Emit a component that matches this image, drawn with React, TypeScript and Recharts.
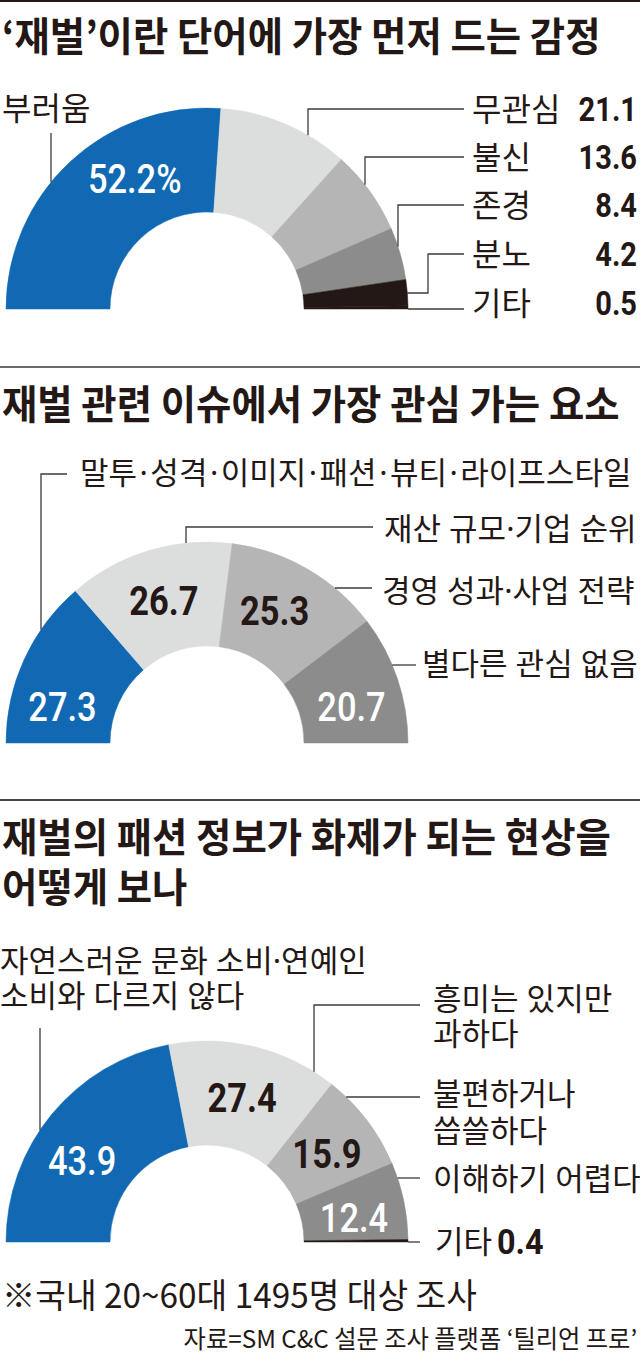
import React from "react";
import { PieChart, Pie, Cell } from "recharts";

const INK = "#231815";
const BLUE = "#1169b4";
const LIGHT = "#dcdddd";
const MID = "#b5b5b6";
const DARK = "#8c8c8c";
const LEAD = "#3e3a39";

const KR = "'Noto Sans CJK KR', 'Noto Sans', sans-serif";
const KR_LABEL = "'Noto Sans', 'Noto Sans CJK KR', sans-serif";
const NUM = "Roboto, 'Liberation Sans', sans-serif";

// '재벌'이란 단어에 가장 먼저 드는 감정
const emotionNames = ["부러움", "무관심", "불신", "존경", "분노", "기타"];
const emotionValues = [52.2, 21.1, 13.6, 8.4, 4.2, 0.5];

// 재벌 관련 이슈에서 가장 관심 가는 요소
const interestNames = [
  "말투·성격·이미지·패션·뷰티·라이프스타일",
  "재산 규모·기업 순위",
  "경영 성과·사업 전략",
  "별다른 관심 없음",
];
const interestValues = [27.3, 26.7, 25.3, 20.7];

// 재벌의 패션 정보가 화제가 되는 현상을 어떻게 보나
const viewNames = [
  "자연스러운 문화 소비·연예인\n소비와 다르지 않다",
  "흥미는 있지만\n과하다",
  "불편하거나\n씁쓸하다",
  "이해하기 어렵다",
  "기타",
];
const viewValues = [43.9, 27.4, 15.9, 12.4, 0.4];

const titles = [
  "‘재벌’이란 단어에 가장 먼저 드는 감정",
  "재벌 관련 이슈에서 가장 관심 가는 요소",
  "재벌의 패션 정보가 화제가 되는 현상을",
  "어떻게 보나",
];
const footnote = "※국내 20~60대 1495명 대상 조사";
const source = "자료=SM C&C 설문 조사 플랫폼 ‘틸리언 프로’";

// layout
const CX = 207;
const R_IN = 97;
const R_OUT = 201;
const IN_F = 41;

type Inside = { shift: number; color: string; weight: number; suffix?: string } | null;
type Leader = {
  tx: number;
  ty: number;
  gap?: number;
  dot?: number;
  x0: number;
  y: number;
  ex?: number;
  ey?: number;
  value?: "right" | "after";
};
type ChartCfg = {
  cy: number;
  labelF: number;
  names: string[];
  values: number[];
  fills: string[];
  inside: Inside[];
  leaders: Leader[];
};

const W = "#fff";

const charts: ChartCfg[] = [
  {
    cy: 309,
    labelF: 32,
    names: emotionNames,
    values: emotionValues,
    fills: [BLUE, LIGHT, MID, DARK, INK, INK],
    inside: [{ shift: -14, color: W, weight: 500, suffix: "%" }, null, null, null, null, null],
    leaders: [
      { tx: 2, ty: 108, x0: 51, y: 133, ex: 51 },
      { tx: 472, ty: 109, x0: 464, y: 109, ex: 308, value: "right" },
      { tx: 472, ty: 157, x0: 464, y: 157, ex: 365, value: "right" },
      { tx: 472, ty: 205, x0: 464, y: 205, ex: 398, value: "right" },
      { tx: 472, ty: 254, x0: 464, y: 254, ex: 428, ey: 293, value: "right" },
      { tx: 472, ty: 303, x0: 464, y: 309, value: "right" },
    ],
  },
  {
    cy: 743,
    labelF: 31,
    names: interestNames,
    values: interestValues,
    fills: [BLUE, LIGHT, MID, DARK],
    inside: [
      { shift: 10.5, color: W, weight: 500 },
      { shift: 0, color: INK, weight: 700 },
      { shift: 3, color: INK, weight: 700 },
      { shift: -4.5, color: W, weight: 500 },
    ],
    leaders: [
      { tx: 80, ty: 472, dot: 2.5, x0: 67, y: 474, ex: 41 },
      { tx: 384, ty: 528, x0: 373, y: 527, ex: 186 },
      { tx: 382, ty: 590, x0: 372, y: 588 },
      { tx: 422, ty: 663, x0: 416, y: 665 },
    ],
  },
  {
    cy: 1242,
    labelF: 31,
    names: viewNames,
    values: viewValues,
    fills: [BLUE, LIGHT, MID, DARK, INK],
    inside: [
      { shift: 6.5, color: W, weight: 500 },
      { shift: 0, color: INK, weight: 700 },
      { shift: -1, color: INK, weight: 700 },
      { shift: -2.4, color: W, weight: 500 },
      null,
    ],
    leaders: [
      { tx: 0, ty: 960, gap: 35, x0: 40, y: 1028, ex: 40 },
      { tx: 433, ty: 998, gap: 35, x0: 420, y: 1005, ex: 314 },
      { tx: 433, ty: 1093, gap: 37, x0: 420, y: 1097 },
      { tx: 433, ty: 1178, x0: 420, y: 1178 },
      { tx: 435, ty: 1241, x0: 420, y: 1242, value: "after" },
    ],
  },
];

const RAD = Math.PI / 180;

// middle dots get a little air on both sides, like the print version
function dotted(t: string, gap?: number) {
  if (!gap || t.indexOf("·") < 0) return t;
  const out: React.ReactNode[] = [];
  t.split("·").forEach((b, i) => {
    if (i > 0) {
      out.push(
        <tspan key={"d" + i} dx={gap}>
          ·
        </tspan>
      );
      out.push(
        <tspan key={"b" + i} dx={gap}>
          {b}
        </tspan>
      );
    } else out.push(<tspan key="b0">{b}</tspan>);
  });
  return out;
}

function renderLabel(chart: ChartCfg) {
  return (p: any) => {
    const { cx, cy, midAngle, innerRadius, outerRadius, index } = p;
    const value = chart.values[index];
    const inside = chart.inside[index];
    const L = chart.leaders[index];
    const F = chart.labelF;
    const parts: React.ReactNode[] = [];

    if (inside) {
      const a = (midAngle + inside.shift) * RAD;
      const r = (innerRadius + outerRadius) / 2;
      const x = cx + r * Math.cos(a);
      const y = cy - r * Math.sin(a) + IN_F * 0.355;
      parts.push(
        <text
          key="in"
          transform={`translate(${x} ${y}) scale(0.84 1)`}
          textAnchor="middle"
          fontFamily={NUM}
          fontSize={IN_F}
          fontWeight={inside.weight}
          fill={inside.color}
        >
          {value.toFixed(1)}
          {inside.suffix || ""}
        </text>
      );
    }

    if (L) {
      const R = outerRadius;
      const pts: number[][] = [[L.x0, L.y]];
      if (L.ex === undefined) {
        pts.push([cx + Math.sqrt(R * R - (L.y - cy) ** 2), L.y]);
      } else if (L.ey === undefined) {
        pts.push([L.ex, L.y], [L.ex, cy - Math.sqrt(R * R - (L.ex - cx) ** 2)]);
      } else {
        pts.push([L.ex, L.y], [L.ex, L.ey], [cx + Math.sqrt(R * R - (L.ey - cy) ** 2), L.ey]);
      }
      parts.push(
        <polyline
          key="lead"
          points={pts.map((q) => q.join(",")).join(" ")}
          fill="none"
          stroke={LEAD}
          strokeWidth={1.3}
        />
      );
      chart.names[index].split("\n").forEach((t, i) => {
        parts.push(
          <text
            key={"t" + i}
            x={L.tx}
            y={L.ty + i * (L.gap || 0) + F * 0.38}
            fontFamily={KR_LABEL}
            fontSize={F}
            fill={INK}
          >
            {dotted(t, L.dot)}
          </text>
        );
      });
      if (L.value === "right") {
        parts.push(
          <text
            key="v"
            transform={`translate(637 ${L.ty + 33 * 0.355}) scale(0.88 1)`}
            textAnchor="end"
            fontFamily={NUM}
            fontSize={33}
            fontWeight={700}
            fill={INK}
          >
            {value.toFixed(1)}
          </text>
        );
      }
      if (L.value === "after") {
        parts.push(
          <text
            key="v"
            transform={`translate(497 ${L.ty + 36 * 0.355}) scale(0.9 1)`}
            fontFamily={NUM}
            fontSize={36}
            fontWeight={700}
            fill={INK}
          >
            {value.toFixed(1)}
          </text>
        );
      }
    }
    return <g>{parts}</g>;
  };
}

const TITLE_F = 40;

function Title({ text, y }: { text: string; y: number }) {
  return (
    <div
      style={{
        position: "absolute",
        left: 2,
        top: y - TITLE_F * 0.55,
        fontSize: TITLE_F,
        lineHeight: `${TITLE_F}px`,
        fontWeight: 700,
        fontFamily: KR,
        color: INK,
        whiteSpace: "nowrap",
        transform: "scaleX(0.96)",
        transformOrigin: "left center",
      }}
    >
      {text}
    </div>
  );
}

function Rule({ y, color, h }: { y: number; color: string; h: number }) {
  return <div style={{ position: "absolute", left: 0, top: y, width: 640, height: h, background: color }} />;
}

export default function App() {
  return (
    <div style={{ position: "absolute", left: 0, top: 0, width: 640, height: 1354, background: "#fff", overflow: "hidden" }}>
      <div style={{ position: "absolute", left: 0, top: 0 }}>
        <PieChart width={640} height={1354} margin={{ top: 0, right: 0, bottom: 0, left: 0 }}>
          {charts.map((c, ci) => {
            const rows = c.names.map((name, i) => ({ name, value: c.values[i] }));
            return (
              <Pie
                key={ci}
                data={rows}
                dataKey="value"
                nameKey="name"
                cx={CX}
                cy={c.cy}
                innerRadius={R_IN}
                outerRadius={R_OUT}
                startAngle={180}
                endAngle={0}
                isAnimationActive={false}
                label={renderLabel(c)}
                labelLine={false}
              >
                {rows.map((_, i) => (
                  <Cell key={i} fill={c.fills[i]} stroke={c.fills[i]} strokeWidth={0.5} />
                ))}
              </Pie>
            );
          })}
        </PieChart>
      </div>
      <Rule y={0} color={INK} h={2} />
      <Title text={titles[0]} y={36} />
      <Rule y={366} color="#6a6a6a" h={2} />
      <Title text={titles[1]} y={404} />
      <Rule y={799} color="#444" h={2} />
      <Title text={titles[2]} y={837} />
      <Title text={titles[3]} y={887} />
      <div
        style={{
          position: "absolute",
          left: 2,
          top: 1296 - 34 * 0.55,
          fontSize: 34,
          lineHeight: "34px",
          fontFamily: KR,
          color: INK,
          whiteSpace: "nowrap",
          transform: "scaleX(0.98)",
          transformOrigin: "left center",
        }}
      >
        {footnote}
      </div>
      <div
        style={{
          position: "absolute",
          right: 3,
          top: 1339 - 24.5 * 0.55,
          fontSize: 24.5,
          lineHeight: "24.5px",
          fontFamily: KR,
          color: INK,
          whiteSpace: "nowrap",
          transform: "scaleX(0.99)",
          transformOrigin: "right center",
        }}
      >
        {source}
      </div>
    </div>
  );
}
